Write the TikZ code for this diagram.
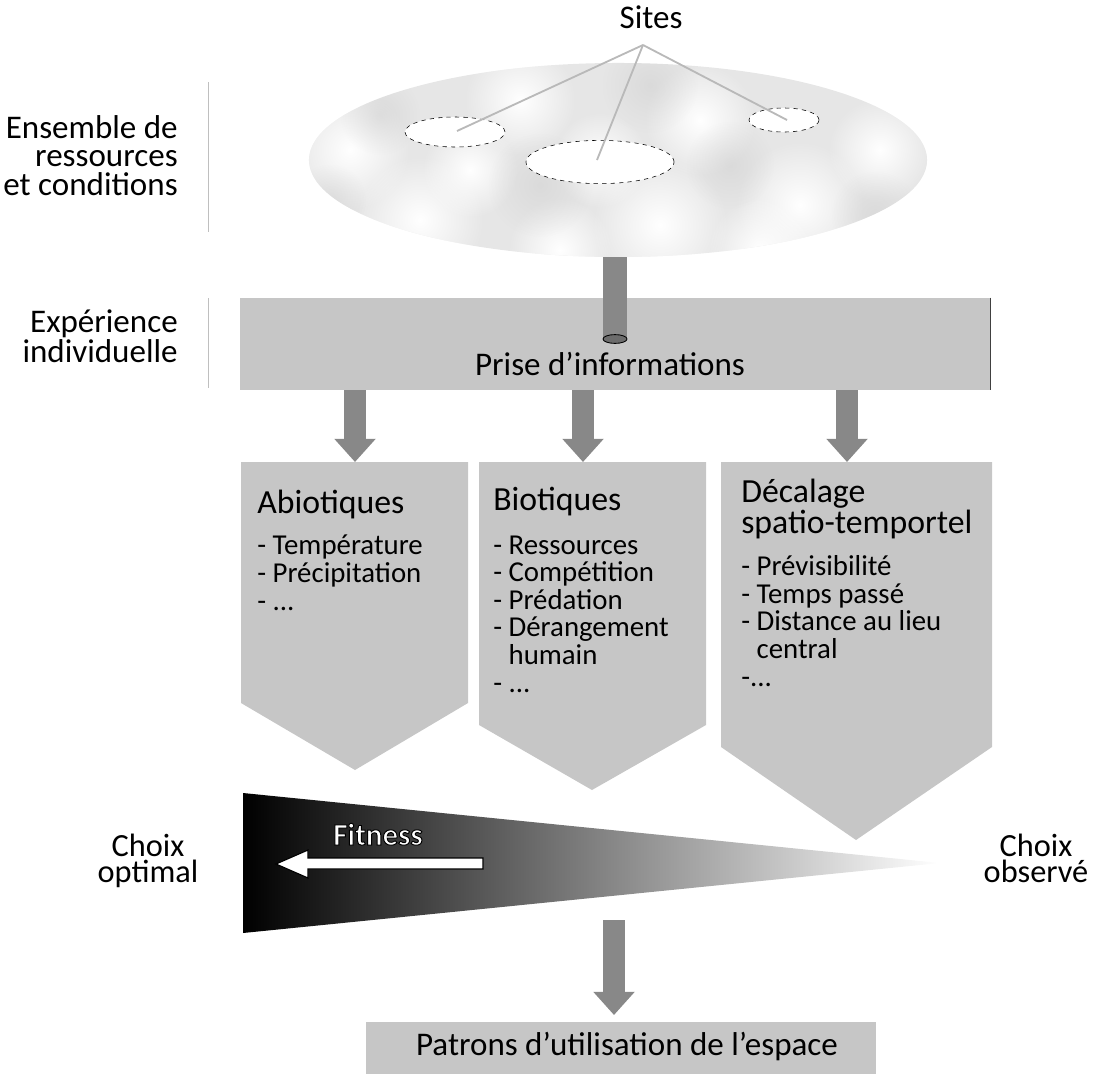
\documentclass[tikz,border=0pt]{standalone}
\usepackage{fontspec}
\setmainfont{Carlito}
\usepackage{xcolor}
\usetikzlibrary{arrows.meta,shapes.geometric,fadings}

\definecolor{boxgray}{HTML}{C6C6C6}
\definecolor{arrowgray}{HTML}{888888}
\definecolor{cloudgray}{HTML}{E6E6E6}

\tikzfading[name=softblob, inner color=transparent!0, outer color=transparent!100]

\tikzset{
    infobox/.style={fill=boxgray, draw=none, inner sep=0pt},
    bigarrow/.style={draw=arrowgray, line width=0.55cm, -{Triangle[width=1cm,length=0.58cm]}},
    site/.style={ellipse, draw=black, dashed, fill=white, inner sep=0pt},
    siteline/.style={draw=gray!55, line width=1.3pt},
    sidelabel/.style={font=\fontsize{23.5pt}{20pt}\selectfont, inner sep=0pt},
    choixlabel/.style={font=\fontsize{23pt}{18.5pt}\selectfont, inner sep=0pt, align=center},
    titletext/.style={font=\fontsize{24pt}{18.5pt}\selectfont, inner sep=0pt, align=left},
    itemtext/.style={font=\fontsize{20.5pt}{19.6pt}\selectfont, inner sep=0pt, align=left},
    fitnesstext/.style={font=\fontsize{22pt}{22pt}\selectfont\bfseries, inner sep=0pt, text=white},
    blob/.style={fill=white, path fading=softblob},
    darkblob/.style={fill=gray!40, fill opacity=0.45, path fading=softblob}
}

\begin{document}
\begin{tikzpicture}[x=0.025cm, y=-0.025cm]
        \useasboundingbox (0,0) rectangle (1096,1073);

        % Ensemble de ressources
        \node[ellipse, fill=cloudgray, inner sep=0pt,
            minimum width=15.45cm,
            minimum height=4.85cm,
        ] (cloud) at (618,160) {};
        \begin{scope}
            \clip (cloud.center) ellipse [x radius=7.725cm, y radius=2.425cm];
            \fill[blob] (350,150) circle [radius=1.5cm];
            \fill[blob] (420,220) circle [radius=1.6cm];
            \fill[blob] (520,100) circle [radius=1.4cm];
            \fill[blob] (660,225) circle [radius=1.7cm];
            \fill[blob] (700,120) circle [radius=1.4cm];
            \fill[blob] (800,205) circle [radius=1.6cm];
            \fill[blob] (880,150) circle [radius=1.3cm];
            \fill[blob] (560,250) circle [radius=1.3cm];
            \fill[blob] (760,250) circle [radius=1.3cm];
            \fill[blob] (470,170) circle [radius=1.2cm];
            \fill[blob] (600,160) circle [radius=1.2cm];
            \fill[darkblob] (540,185) circle [radius=1.3cm];
            \fill[darkblob] (650,85) circle [radius=1.2cm];
            \fill[darkblob] (875,215) circle [radius=1.1cm];
            \fill[darkblob] (380,115) circle [radius=1.0cm];
            \fill[darkblob] (730,165) circle [radius=1.1cm];
            \fill[darkblob] (330,200) circle [radius=0.9cm];
        \end{scope}

        % Sites
        \node[site, minimum width=2.5cm, minimum height=0.75cm] (siteleft) at (455,132) {};
        \node[site, minimum width=3.7cm, minimum height=1.08cm] (sitemid) at (600,162) {};
        \node[site, minimum width=1.75cm, minimum height=0.6cm] (siteright) at (784,120) {};
        \node[sidelabel, anchor=base] (sites) at (651,28) {Sites};
        \coordinate (apex) at (643,45);
        \draw[siteline] (apex) -- (457,131);
        \draw[siteline] (apex) -- (597,160);
        \draw[siteline] (apex) -- (787,120);

        % Left labels
        \draw[gray!50] (208,82) -- (208,232);
        \draw[gray!50] (208,298) -- (208,388);
        \node[sidelabel, align=right, anchor=base east] (ensemble) at (178,195) {Ensemble de\\ressources\\et conditions};
        \node[sidelabel, align=right, anchor=base east] (experience) at (178,362) {Expérience\\individuelle};

        % Prise d'informations
        \node[infobox,
            minimum width=18.75cm,
            minimum height=2.3cm,
        ] (prise) at (615,344) {};
        \draw[gray!50!black] (prise.north east) -- (prise.south east);
        \coordinate (stemtop) at (cloud.south -| 615,0);
        \coordinate (stembot) at (615,339);
        \draw[arrowgray, line width=0.6cm] (stemtop) -- (stembot);
        \draw[fill=gray!85!black, draw=black, line width=0.6pt] (stembot) ellipse [x radius=0.3cm, y radius=0.11cm];
        \node[sidelabel, anchor=base] (prisetext) at (610,375) {Prise d’informations};

        % Abiotiques
        \fill[boxgray] (241,462) -- (468,462) -- (468,703) -- (355,770) -- (241,703) -- cycle;
        \coordinate (abiotop) at (355,462);
        \node[titletext, anchor=base west] (abiotitle) at (257,513) {Abiotiques};
        \node[itemtext, anchor=base west] (abiolist) at (257,610) {- Température\\- Précipitation\\- ...};

        % Biotiques
        \fill[boxgray] (479,462) -- (706,462) -- (706,725) -- (592,790) -- (479,725) -- cycle;
        \coordinate (biotop) at (583,462);
        \node[titletext, anchor=base west] (biotitle) at (493,510) {Biotiques};
        \node[itemtext, anchor=base west] (biolist) at (493,692) {- Ressources\\- Compétition\\- Prédation\\- Dérangement\\\phantom{- }humain\\- ...};

        % Decalage
        \fill[boxgray] (721,462) -- (992,462) -- (992,747) -- (856,840) -- (721,747) -- cycle;
        \coordinate (dectop) at (847,462);
        \node[titletext, anchor=base west] (dectitle) at (741,533) {Décalage\\spatio-temportel};
        \node[itemtext, anchor=base west] (declist) at (741,686) {- Prévisibilité\\- Temps passé\\- Distance au lieu\\\phantom{- }central\\-...};

        \draw[bigarrow] (prise.south -| abiotop) -- (abiotop);
        \draw[bigarrow] (prise.south -| biotop) -- (biotop);
        \draw[bigarrow] (prise.south -| dectop) -- (dectop);

        % Fitness
        \shade[left color=black, right color=white] (243,793) -- (940,863) -- (243,933) -- cycle;
        \draw[fill=white, draw=black, line width=0.8pt] (483,858) -- (308,858) -- (308,850) -- (276,864) -- (308,878) -- (308,869) -- (483,869) -- cycle;
        \node[fitnesstext, anchor=base] (fitness) at (378,845) {\special{pdf:literal direct 2 Tr 0.7 w 0 G}Fitness\special{pdf:literal direct 0 Tr}};
        \node[choixlabel, anchor=base] (optimal) at (148,882) {Choix\\optimal};
        \node[choixlabel, anchor=base] (observe) at (1036,882) {Choix\\observé};

        % Patrons
        \node[infobox,
            minimum width=12.75cm,
            minimum height=1.4cm,
            anchor=north west,
        ] (patrons) at (366,1022) {};
        \node[sidelabel, anchor=base] (patronstext) at (627,1055) {Patrons d’utilisation de l’espace};
        \coordinate (fitbottom) at (614,920);
        \coordinate (patronstop) at (614,1015);
        \draw[bigarrow] (fitbottom) -- (patronstop);
\end{tikzpicture}
\end{document}
